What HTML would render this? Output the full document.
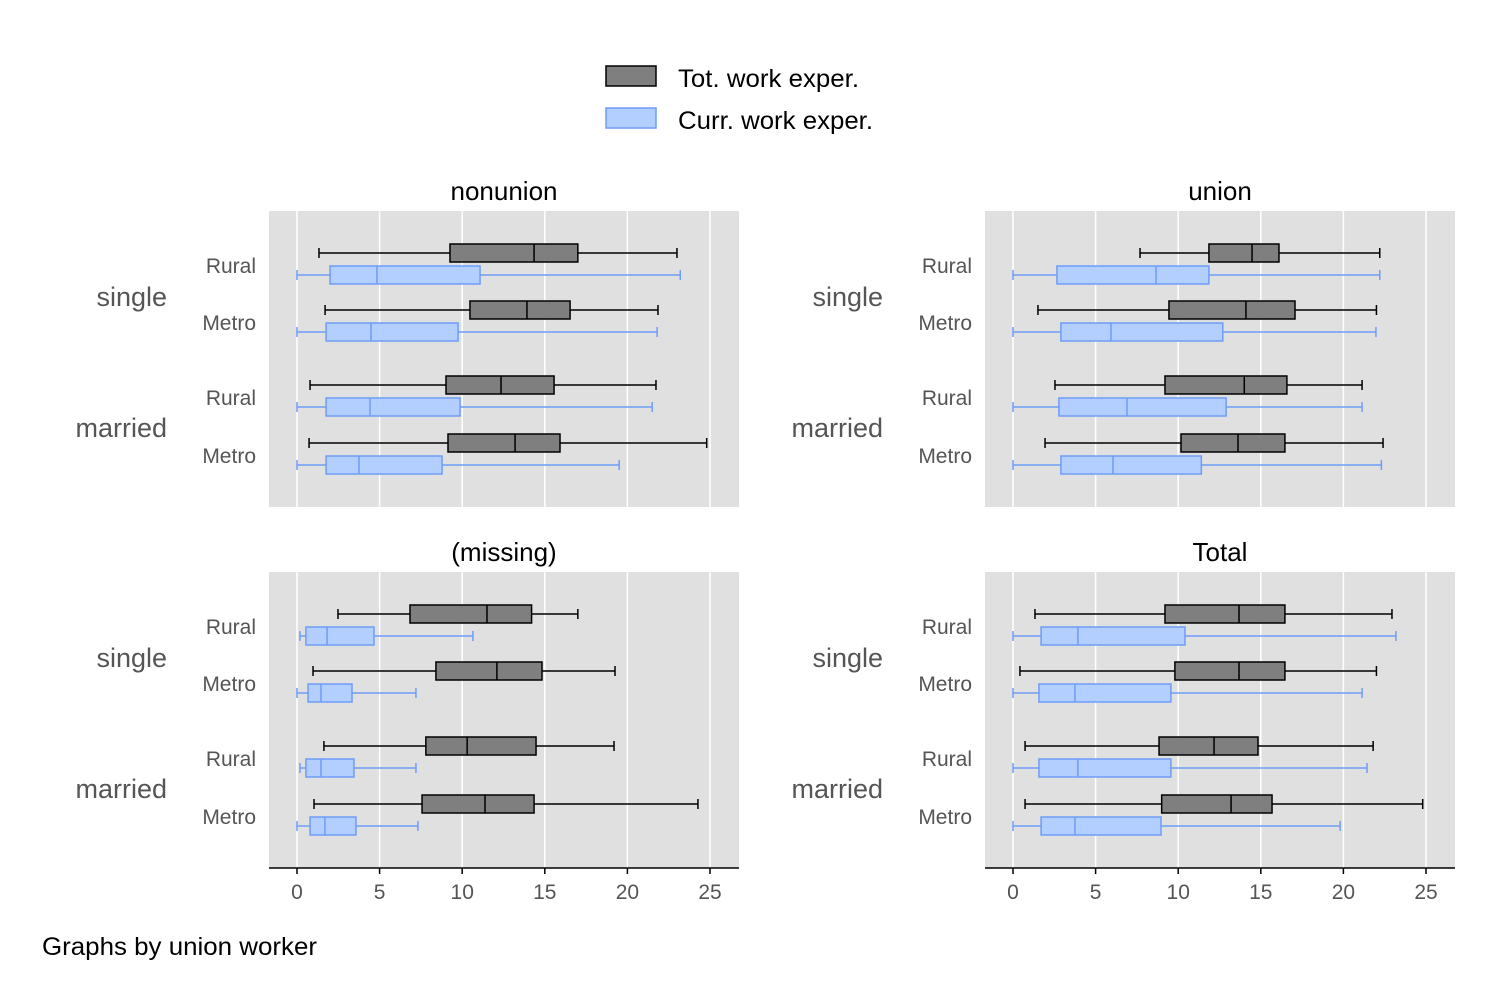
<!DOCTYPE html>
<html><head><meta charset="utf-8"><style>
body{margin:0;background:#fff;}
svg{display:block;font-family:"Liberation Sans",Arial,sans-serif;}
</style></head><body>
<svg id="c" width="1506" height="1004" viewBox="0 0 1506 1004">
<g>
<rect x="606" y="66" width="50" height="20" fill="#7f7f7f" stroke="#000" stroke-width="1.5"/>
<text x="678" y="87" font-size="25" fill="#000" textLength="181" lengthAdjust="spacingAndGlyphs">Tot. work exper.</text>
<rect x="606" y="108" width="50" height="20" fill="#b3cfff" stroke="#6f9cf7" stroke-width="1.5"/>
<text x="678" y="129" font-size="25" fill="#000" textLength="195" lengthAdjust="spacingAndGlyphs">Curr. work exper.</text>
</g>
<text x="42" y="955" font-size="25" fill="#000" textLength="275" lengthAdjust="spacingAndGlyphs">Graphs by union worker</text>
</svg>
<script>
const panelTitles = ["nonunion","union","(missing)","Total"];
const rowLabels = ["Rural","Metro","Rural","Metro"];
const groupLabels = ["single","married"];
const xTicks = [0,5,10,15,20,25];
// each row: [lo,q1,med,q3,hi]
const totNonunion = [[1.33,9.26,14.35,17.0,23.0],[1.7,10.47,13.92,16.53,21.85],[0.79,9.02,12.35,15.56,21.73],[0.73,9.14,13.2,15.92,24.8]];
const curNonunion = [[0,2.0,4.84,11.08,23.2],[0,1.76,4.48,9.75,21.8],[0,1.76,4.42,9.87,21.5],[0,1.76,3.75,8.78,19.5]];
const totUnion = [[7.69,11.86,14.47,16.1,22.2],[1.51,9.44,14.1,17.07,22.0],[2.54,9.2,14.0,16.58,21.13],[1.94,10.17,13.62,16.46,22.4]];
const curUnion = [[0,2.66,8.66,11.86,22.2],[0,2.9,5.93,12.7,21.97],[0,2.78,6.9,12.9,21.13],[0,2.9,6.05,11.4,22.3]];
const totMissing = [[2.48,6.84,11.5,14.2,17.0],[0.97,8.41,12.1,14.83,19.25],[1.63,7.8,10.3,14.47,19.19],[1.03,7.57,11.38,14.35,24.27]];
const curMissing = [[0.18,0.54,1.82,4.66,10.65],[0,0.67,1.45,3.33,7.2],[0.18,0.54,1.45,3.45,7.2],[0,0.79,1.69,3.57,7.32]];
const totTotal = [[1.33,9.2,13.68,16.46,22.94],[0.42,9.8,13.68,16.46,22.0],[0.73,8.84,12.17,14.83,21.8],[0.73,9.0,13.2,15.68,24.8]];
const curTotal = [[0,1.7,3.93,10.41,23.18],[0,1.57,3.75,9.56,21.13],[0,1.57,3.93,9.56,21.43],[0,1.7,3.75,8.96,19.8]];

const svg=document.getElementById('c');
const NS='http://www.w3.org/2000/svg';
function mk(tag,attrs,parent){const e=document.createElementNS(NS,tag);for(const k in attrs)e.setAttribute(k,attrs[k]);(parent||svg).appendChild(e);return e;}
const panels=[
 {x:269,y:211,tot:totNonunion,cur:curNonunion,title:panelTitles[0],axis:false},
 {x:985,y:211,tot:totUnion,cur:curUnion,title:panelTitles[1],axis:false},
 {x:269,y:572,tot:totMissing,cur:curMissing,title:panelTitles[2],axis:true},
 {x:985,y:572,tot:totTotal,cur:curTotal,title:panelTitles[3],axis:true}];
const W=470,H=296,rowOff=[42,99,174,232],curGap=22,bh=18;
panels.forEach((p,pi)=>{
 const g=mk('g',{});
 
 
 const sx=v=>p.x+28+v*16.52;
 const bg=mk('rect',{x:p.x,y:p.y,width:W,height:H,fill:'#e0e0e0'},g);
 
 
 xTicks.forEach(t=>{
  const l=mk('line',{x1:sx(t),x2:sx(t),y1:p.y,y2:p.y+H,stroke:'#fff','stroke-width':1.5},g);
  
  
 });
 const tt=mk('text',{x:p.x+W/2,y:p.y-11,'font-size':26,'text-anchor':'middle',fill:'#000'},g);
 tt.textContent=p.title;
 
 
 for(let r=0;r<4;r++){
  const yd=p.y+rowOff[r],yc=yd+curGap;
  const rl=mk('text',{x:p.x-13,y:yd+20,'font-size':21,'text-anchor':'end',fill:'#555'},g);
  rl.textContent=rowLabels[r];
  
  
  [[p.tot[r],yd,'#7f7f7f','#000'],[p.cur[r],yc,'#b3cfff','#6f9cf7']].forEach(([d,y,f,s],k)=>{
   const bx=mk('g',{},g);
   
   
   mk('line',{x1:sx(d[0]),x2:sx(d[4]),y1:y,y2:y,stroke:s,'stroke-width':1.5},bx);
   mk('line',{x1:sx(d[0]),x2:sx(d[0]),y1:y-5,y2:y+5,stroke:s,'stroke-width':1.5},bx);
   mk('line',{x1:sx(d[4]),x2:sx(d[4]),y1:y-5,y2:y+5,stroke:s,'stroke-width':1.5},bx);
   mk('rect',{x:sx(d[1]),y:y-bh/2,width:sx(d[3])-sx(d[1]),height:bh,fill:f,stroke:s,'stroke-width':1.5},bx);
   mk('line',{x1:sx(d[2]),x2:sx(d[2]),y1:y-bh/2,y2:y+bh/2,stroke:s,'stroke-width':1.5},bx);
  });
 }
 groupLabels.forEach((gl,i)=>{
  const t=mk('text',{x:p.x-102,y:p.y+(i?226:95),'font-size':27,'text-anchor':'end',fill:'#555'},g);
  t.textContent=gl;
  
  
 });
 if(p.axis){
  const ax=mk('line',{x1:p.x,x2:p.x+W,y1:p.y+H,y2:p.y+H,stroke:'#000','stroke-width':1.5},g);
  
  
  xTicks.forEach(t=>{
   mk('line',{x1:sx(t),x2:sx(t),y1:p.y+H,y2:p.y+H+6,stroke:'#000','stroke-width':1.5},g);
   const tl=mk('text',{x:sx(t),y:p.y+H+31,'font-size':21,'text-anchor':'middle',fill:'#555'},g);
   tl.textContent=t;
   
   
  });
 }
});
</script>
</body></html>
